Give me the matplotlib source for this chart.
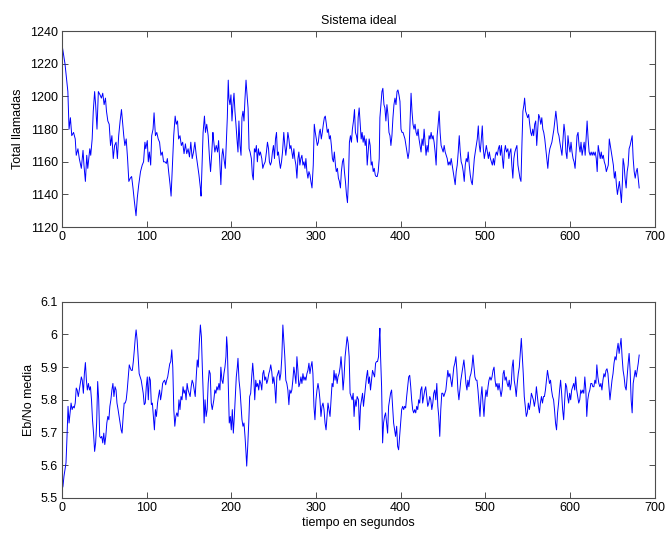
import numpy as np
import matplotlib
matplotlib.use('Agg')
import matplotlib.pyplot as plt
from matplotlib.ticker import FormatStrFormatter

plt.rcParams['font.family'] = ['Liberation Sans', 'DejaVu Sans']
plt.rcParams['font.size'] = 9

# (tiempo, total llamadas)
calls_pts = [
    (0, 1232), (3.6, 1220), (7, 1203), (8.4, 1180), (10, 1187), (11.6, 1176), (13.7, 1178), (15.7, 1174),
    (16.9, 1164), (18.9, 1168), (20.5, 1162), (22.9, 1156), (24.9, 1167), (26, 1158), (27.7, 1148),
    (29.3, 1164), (30.5, 1156), (32.9, 1168), (34, 1164), (35.7, 1174), (37, 1191), (38.6, 1203),
    (39.8, 1195), (41.4, 1180), (43, 1203), (45, 1201), (46.6, 1199), (48.2, 1202), (49.8, 1195),
    (51.4, 1199), (52.6, 1191), (54.2, 1185), (55.8, 1183), (57.4, 1170), (59, 1176), (60.6, 1162),
    (62.2, 1170), (63.9, 1172), (65.5, 1162), (67, 1176), (68.7, 1185), (70.3, 1192), (71.5, 1185),
    (73, 1176), (74.3, 1170), (75.9, 1174), (77.5, 1162), (79, 1148), (80.7, 1150), (82.3, 1151),
    (83.9, 1144), (85.5, 1136), (87.5, 1127), (89, 1138), (90.7, 1146), (92.8, 1154), (94.8, 1158),
    (96.4, 1160), (98, 1172), (99, 1168), (100.8, 1173), (102, 1160), (103.2, 1166), (104.8, 1158),
    (106, 1176), (107.6, 1180), (108.8, 1190), (110.4, 1176), (112, 1178), (113.7, 1174), (115.3, 1172),
    (116.9, 1164), (118.5, 1166), (120, 1160), (121.7, 1160), (123.3, 1159), (124.5, 1162), (126, 1154),
    (127.7, 1146), (128.9, 1139), (130.5, 1158), (132, 1176), (133.7, 1188), (135, 1183), (136.5, 1185),
    (137.8, 1174), (139.4, 1176), (141, 1170), (142.6, 1172), (144.2, 1165), (145.8, 1171), (147.4, 1165),
    (149, 1168), (150.6, 1163), (152.2, 1172), (153.8, 1162), (155.4, 1166), (157, 1172), (158.6, 1164),
    (160.2, 1158), (161.8, 1152), (163.5, 1144), (164.3, 1139), (165.5, 1158), (166.7, 1178), (168.3, 1188),
    (169.5, 1178), (171, 1183), (172.7, 1176), (174.3, 1162), (175.5, 1154), (177, 1166), (178.3, 1178),
    (179, 1174), (180.6, 1166), (182.2, 1170), (183.8, 1166), (185, 1173), (186.2, 1162), (187.7, 1146),
    (189, 1164), (190, 1168), (191.3, 1162), (192.9, 1156), (194, 1170), (195.3, 1187), (196.4, 1210),
    (197.2, 1199), (198.4, 1195), (199.6, 1201), (200.8, 1185), (202, 1195), (203.2, 1202), (204.3, 1191),
    (205.5, 1183), (206.7, 1174), (207.9, 1166), (209, 1185), (210.3, 1170), (211.5, 1164), (212.6, 1187),
    (213.8, 1191), (215, 1185), (216.2, 1199), (217.4, 1210), (218.6, 1201), (219.8, 1193), (221, 1168),
    (222.2, 1166), (223.7, 1162), (224.9, 1152), (226, 1149), (227.3, 1168), (228.5, 1166), (229.6, 1170),
    (230.8, 1160), (232, 1168), (233.2, 1164), (234.4, 1166), (236, 1162), (237.2, 1156), (238.3, 1158),
    (240, 1160), (241.5, 1166), (242.7, 1172), (244, 1168), (245, 1160), (246.2, 1158), (247.4, 1160),
    (248.6, 1166), (249.8, 1170), (251, 1162), (252.2, 1174), (253.4, 1178), (254.5, 1164), (255.7, 1166),
    (256.9, 1160), (258, 1156), (259.3, 1160), (260.5, 1166), (262, 1178), (263.2, 1170), (264.4, 1164),
    (265.6, 1170), (266.8, 1178), (268, 1174), (269.2, 1168), (270.4, 1170), (271.5, 1166), (272.7, 1162),
    (273.9, 1168), (275, 1162), (276.3, 1158), (277.5, 1150), (278.7, 1162), (279.8, 1166), (281, 1158),
    (282.2, 1162), (283.4, 1164), (284.6, 1158), (285.8, 1160), (287, 1156), (288.1, 1162), (289.3, 1154),
    (290.5, 1150), (291.7, 1154), (292.9, 1152), (294, 1148), (295.3, 1144), (296.8, 1158), (298, 1183),
    (299.2, 1178), (300.4, 1174), (301.6, 1170), (302.8, 1172), (304, 1178), (305, 1180), (306.3, 1174),
    (307.5, 1178), (308.7, 1183), (309.9, 1187), (311, 1188), (312.3, 1183), (313.4, 1178), (314.6, 1180),
    (315.8, 1174), (317, 1176), (318.2, 1170), (319.4, 1162), (320.6, 1160), (321.7, 1166), (323, 1158),
    (324, 1154), (325.3, 1156), (326.5, 1150), (327.7, 1148), (328.9, 1144), (330, 1154), (331.3, 1160),
    (332.5, 1162), (333.6, 1154), (334.8, 1148), (336, 1140), (337.2, 1135), (338.3, 1148), (339.5, 1172),
    (340.7, 1176), (341.9, 1172), (343, 1180), (344.3, 1185), (345.5, 1192), (346.6, 1178), (347.8, 1176),
    (349, 1172), (349.8, 1187), (351, 1193), (352.2, 1183), (353.4, 1174), (354.5, 1178), (355.7, 1172),
    (356.9, 1176), (358.1, 1170), (359.3, 1174), (360.5, 1158), (361.7, 1166), (362.8, 1174), (364, 1170),
    (365.2, 1158), (366.4, 1160), (367.6, 1154), (368.8, 1156), (370, 1152), (371.1, 1151), (372.3, 1151),
    (373.5, 1154), (374.7, 1162), (375.5, 1187), (376.7, 1195), (377.9, 1203), (379, 1205), (380.3, 1195),
    (381.4, 1193), (382.6, 1185), (383.8, 1195), (385, 1189), (386.2, 1178), (387.4, 1176), (388.5, 1170),
    (389.7, 1176), (390.9, 1187), (392.1, 1195), (393.3, 1199), (394.5, 1195), (395.7, 1203), (396.8, 1204),
    (398, 1201), (399.2, 1197), (400.4, 1180), (401.6, 1178), (402.8, 1178), (404, 1176), (405.1, 1174),
    (406.3, 1170), (407.5, 1166), (408.7, 1162), (409.9, 1166), (411, 1183), (412.3, 1202), (413.4, 1191),
    (414.6, 1183), (415.8, 1180), (417, 1183), (418.2, 1178), (419.4, 1176), (420.6, 1180), (421.7, 1174),
    (422.9, 1170), (424.1, 1166), (425.3, 1174), (426.5, 1170), (427.7, 1180), (428.9, 1172), (430, 1164),
    (431.2, 1170), (432.4, 1166), (433.6, 1176), (434.8, 1174), (436, 1178), (437.2, 1174), (438.3, 1176),
    (439.5, 1172), (440.7, 1166), (441.9, 1158), (443.1, 1176), (444.3, 1183), (445.5, 1191), (446.6, 1178),
    (447.8, 1170), (449, 1168), (450.2, 1166), (451.4, 1170), (452.6, 1166), (453.8, 1164), (455, 1162),
    (456.1, 1158), (457.3, 1160), (458.5, 1158), (459.7, 1162), (460.9, 1158), (462, 1154), (463.2, 1150),
    (464.4, 1146), (465.6, 1154), (466.8, 1158), (468, 1166), (469.2, 1176), (470.4, 1166), (471.5, 1160),
    (472.7, 1158), (473.9, 1154), (475.1, 1148), (476.3, 1158), (477.5, 1162), (478.7, 1160), (479.8, 1166),
    (481, 1158), (482.2, 1152), (483.4, 1148), (484.6, 1146), (485.8, 1154), (487, 1162), (488.1, 1166),
    (489.3, 1170), (490.5, 1174), (491.7, 1182), (492.9, 1170), (494, 1166), (495.3, 1174), (496.4, 1182),
    (497.6, 1168), (498.8, 1162), (500, 1166), (501.2, 1170), (502.4, 1166), (503.6, 1162), (504.7, 1166),
    (506, 1162), (507.1, 1160), (508.3, 1158), (509.5, 1162), (510.7, 1158), (511.9, 1164), (513, 1166),
    (514.2, 1164), (515.4, 1168), (516.6, 1170), (517.8, 1164), (519, 1170), (520.2, 1162), (521.3, 1156),
    (522.5, 1166), (523.7, 1170), (525, 1166), (526.6, 1168), (527.8, 1162), (529, 1166), (530.2, 1168),
    (531.3, 1158), (532.5, 1150), (533.7, 1162), (534.9, 1166), (536, 1168), (537.3, 1170), (538.5, 1158),
    (539.7, 1154), (540.9, 1150), (542.1, 1148), (543.3, 1172), (544.4, 1191), (545.6, 1195), (546.4, 1199),
    (547.6, 1191), (548.8, 1189), (550, 1187), (551.2, 1189), (552.4, 1183), (553.6, 1178), (554.8, 1176),
    (556, 1180), (557.1, 1176), (558.3, 1183), (559.5, 1185), (560.7, 1170), (561.9, 1180), (563, 1189),
    (564.3, 1187), (565.5, 1183), (566.7, 1187), (567.9, 1180), (569, 1178), (570.2, 1174), (571.4, 1168),
    (572.6, 1162), (573.8, 1156), (575, 1164), (576.2, 1168), (577.4, 1170), (578.6, 1172), (579.8, 1176),
    (581, 1180), (582.1, 1185), (583.3, 1191), (584.5, 1185), (585.7, 1178), (586.9, 1176), (588, 1172),
    (589.3, 1168), (590.5, 1164), (591.7, 1174), (592.9, 1183), (594, 1178), (595.2, 1166), (596.4, 1162),
    (597.6, 1176), (598.8, 1170), (600, 1166), (601.2, 1172), (602.4, 1166), (603.6, 1162), (604.8, 1160),
    (606, 1156), (607.1, 1166), (608.3, 1176), (609.5, 1178), (610.7, 1170), (611.9, 1166), (613, 1172),
    (614.3, 1164), (615.5, 1168), (616.7, 1172), (617.9, 1164), (619, 1174), (620.2, 1185), (621.4, 1174),
    (622.6, 1166), (623.8, 1164), (625, 1166), (626.2, 1164), (627.4, 1166), (628.6, 1164), (629.8, 1166),
    (631, 1162), (632.1, 1154), (633.3, 1170), (634.5, 1166), (635.7, 1162), (636.9, 1166), (638, 1162),
    (639.3, 1164), (640.5, 1160), (641.7, 1158), (642.9, 1154), (644, 1156), (645.2, 1158), (646.4, 1174),
    (647.6, 1170), (648.8, 1166), (650, 1162), (651.2, 1158), (652.4, 1150), (653.6, 1154), (654.8, 1146),
    (656, 1140), (657.1, 1144), (658.3, 1148), (659.5, 1142), (660.7, 1135), (661.9, 1148), (662.7, 1162),
    (663.9, 1158), (665, 1150), (666.3, 1144), (667.5, 1154), (668.7, 1158), (669.8, 1168), (671, 1170),
    (672.2, 1173), (673.4, 1176), (674.6, 1162), (675.8, 1154), (677, 1150), (678.2, 1154), (679.4, 1156),
    (680.6, 1150), (681.7, 1144),
]

# (tiempo, Eb/No media)
ebno_pts = [
    (0, 5.525), (1.2, 5.535), (2.4, 5.566), (3.6, 5.586), (4.8, 5.607), (6, 5.688), (7.2, 5.78), (8.4, 5.729),
    (9.6, 5.76), (10.8, 5.79), (12, 5.77), (13.3, 5.78), (14.5, 5.775), (15.7, 5.79), (16.9, 5.836), (18, 5.83),
    (19.3, 5.81), (20.5, 5.83), (21.7, 5.85), (22.9, 5.87), (24, 5.86), (25.3, 5.82), (26.5, 5.88), (27.7, 5.914),
    (28.9, 5.86), (30, 5.83), (31.3, 5.85), (32.5, 5.83), (33.7, 5.84), (34.9, 5.8), (36.1, 5.739), (37.3, 5.698),
    (38.6, 5.642), (39.8, 5.668), (41, 5.729), (42.2, 5.856), (43.4, 5.8), (44.6, 5.688), (45.8, 5.683),
    (47, 5.688), (48.2, 5.668), (49.4, 5.698), (50.6, 5.663), (51.8, 5.688), (53, 5.729), (54.2, 5.749),
    (55.4, 5.739), (56.6, 5.78), (57.8, 5.8), (59, 5.83), (60.2, 5.85), (61.4, 5.81), (62.7, 5.84), (63.9, 5.83),
    (65, 5.79), (66.3, 5.77), (67.5, 5.749), (68.7, 5.729), (69.9, 5.708), (71, 5.698), (72.3, 5.749),
    (73.5, 5.79), (74.7, 5.79), (75.9, 5.8), (77.1, 5.83), (78.3, 5.87), (79.5, 5.907), (80.7, 5.897),
    (81.9, 5.89), (83.1, 5.89), (84.3, 5.917), (85.5, 5.953), (86.7, 5.993), (87.6, 6.014), (88.8, 5.983),
    (90, 5.932), (91.2, 5.88), (92.4, 5.87), (93.6, 5.86), (94.8, 5.84), (96, 5.82), (97.2, 5.785), (98.4, 5.79),
    (99.6, 5.84), (100.8, 5.87), (102, 5.8), (103.2, 5.87), (104.4, 5.86), (105.6, 5.785), (106.8, 5.79),
    (108, 5.749), (109.2, 5.708), (110.4, 5.77), (111.6, 5.749), (112.9, 5.79), (114, 5.81), (115.3, 5.83),
    (116.5, 5.8), (117.7, 5.82), (118.9, 5.85), (120, 5.856), (121.3, 5.86), (122.5, 5.846), (123.7, 5.86),
    (124.9, 5.87), (126.1, 5.89), (127.3, 5.91), (128.5, 5.917), (129.7, 5.953), (130.9, 5.9), (132.1, 5.77),
    (133.3, 5.719), (134.5, 5.749), (135.7, 5.76), (137, 5.749), (138.2, 5.8), (139.4, 5.77), (140.6, 5.81),
    (141.8, 5.8), (143, 5.84), (144.2, 5.82), (145.4, 5.83), (146.6, 5.8), (147.8, 5.85), (149, 5.83),
    (150.2, 5.82), (151.4, 5.81), (152.6, 5.84), (153.8, 5.86), (155, 5.85), (156.2, 5.83), (157.4, 5.81),
    (158.6, 5.87), (159.8, 5.922), (161, 5.9), (162.2, 5.973), (163.5, 6.029), (164.7, 5.993), (165.9, 5.89),
    (167.1, 5.8), (167.9, 5.729), (169, 5.8), (170.3, 5.749), (171.5, 5.77), (172.7, 5.85), (173.9, 5.89),
    (175.1, 5.88), (176.3, 5.79), (177.5, 5.77), (179.4, 5.8), (180.6, 5.83), (181.8, 5.82), (183, 5.84),
    (184.2, 5.83), (185.4, 5.85), (186.6, 5.83), (187.7, 5.9), (188.9, 5.86), (190.1, 5.85), (191.3, 5.88),
    (192.5, 5.9), (193.7, 5.932), (194.5, 5.993), (195.3, 5.963), (196.4, 5.85), (197.6, 5.729), (198.8, 5.749),
    (200, 5.708), (201.2, 5.77), (202.4, 5.698), (203.6, 5.749), (204.7, 5.81), (205.9, 5.87), (207.1, 5.9),
    (207.9, 5.927), (209.1, 5.86), (210.3, 5.83), (211.5, 5.78), (212.6, 5.739), (213.8, 5.719), (215, 5.729),
    (216.2, 5.688), (217.4, 5.637), (218.2, 5.597), (219.4, 5.658), (220.6, 5.729), (221.7, 5.81), (222.9, 5.82),
    (224.1, 5.87), (225.3, 5.912), (226.5, 5.87), (227.7, 5.8), (228.9, 5.86), (230, 5.84), (231.2, 5.85),
    (232.4, 5.83), (233.6, 5.86), (234.8, 5.85), (236, 5.83), (237.2, 5.88), (238.3, 5.89), (239.5, 5.86),
    (240.7, 5.87), (241.9, 5.85), (243, 5.86), (244.3, 5.88), (245.4, 5.89), (246.6, 5.907), (247.8, 5.886),
    (249, 5.85), (250.2, 5.87), (251.4, 5.84), (252.6, 5.79), (253.8, 5.87), (255, 5.88), (256.1, 5.89),
    (257.3, 5.86), (258.5, 5.88), (259.7, 5.932), (260.9, 6.029), (262, 5.983), (263.2, 5.932), (264.4, 5.86),
    (265.6, 5.85), (266.8, 5.83), (268, 5.785), (269.2, 5.83), (270.4, 5.82), (271.5, 5.83), (272.7, 5.86),
    (273.9, 5.9), (275, 5.88), (276.3, 5.85), (277.5, 5.932), (278.7, 5.89), (279.8, 5.84), (281, 5.85),
    (282.2, 5.87), (283.4, 5.85), (284.6, 5.88), (285.8, 5.86), (287, 5.87), (288.1, 5.86), (289.3, 5.88),
    (290.5, 5.89), (291.7, 5.912), (292.9, 5.88), (294, 5.9), (295.3, 5.917), (296.4, 5.88), (297.6, 5.78),
    (298.8, 5.739), (300, 5.8), (301.2, 5.83), (302.4, 5.85), (303.6, 5.83), (304.7, 5.8), (305.9, 5.749),
    (307.1, 5.78), (308.3, 5.79), (309.5, 5.77), (310.7, 5.729), (311.9, 5.708), (313, 5.749), (314.2, 5.79),
    (315.4, 5.77), (316.6, 5.749), (317.8, 5.8), (319, 5.85), (320.2, 5.84), (321.3, 5.89), (322.5, 5.86),
    (323.7, 5.88), (325, 5.85), (326, 5.87), (327.3, 5.88), (328.5, 5.9), (329.6, 5.932), (330.8, 5.89),
    (332, 5.83), (333.2, 5.87), (334.4, 5.932), (335.6, 5.963), (336.8, 5.993), (338, 5.973), (339.2, 5.932),
    (340.3, 5.82), (341.5, 5.81), (342.7, 5.8), (343.9, 5.82), (345, 5.749), (346.2, 5.8), (347.4, 5.78),
    (348.6, 5.81), (350.2, 5.8), (351.4, 5.708), (352.6, 5.78), (353.8, 5.8), (355, 5.82), (356.1, 5.78),
    (357.3, 5.81), (358.5, 5.84), (359.7, 5.87), (360.9, 5.89), (362.1, 5.85), (363.2, 5.87), (364.4, 5.83),
    (365.6, 5.86), (366.8, 5.89), (368, 5.88), (369.2, 5.87), (370.4, 5.912), (371.5, 5.917), (372.7, 5.917),
    (373.9, 5.932), (374.7, 5.983), (375.5, 6.019), (376.3, 5.932), (377.5, 5.84), (378.7, 5.668), (379.8, 5.729),
    (381, 5.749), (382.2, 5.76), (383.4, 5.729), (384.6, 5.698), (385.8, 5.78), (387, 5.8), (388.1, 5.82),
    (389.3, 5.83), (390.5, 5.78), (391.7, 5.729), (392.9, 5.708), (394, 5.688), (395.3, 5.719), (396.4, 5.658),
    (397.6, 5.647), (398.8, 5.688), (400, 5.729), (401.2, 5.77), (402.4, 5.78), (403.6, 5.77), (404.7, 5.78),
    (405.9, 5.775), (407.1, 5.81), (408.3, 5.84), (409.5, 5.87), (410.7, 5.875), (411.9, 5.84), (413, 5.8),
    (414.2, 5.77), (415.4, 5.76), (416.6, 5.77), (417.8, 5.76), (419, 5.78), (420.2, 5.77), (421.3, 5.8),
    (422.5, 5.79), (423.7, 5.83), (425, 5.84), (426, 5.79), (427.3, 5.81), (428.5, 5.83), (429.6, 5.84),
    (430.8, 5.81), (432, 5.78), (433.2, 5.79), (434.4, 5.81), (435.6, 5.8), (436.8, 5.77), (438, 5.79),
    (439.1, 5.82), (440.3, 5.83), (441.5, 5.8), (442.7, 5.85), (443.9, 5.78), (445, 5.749), (446.2, 5.688),
    (447.4, 5.77), (448.6, 5.82), (449.8, 5.82), (451, 5.81), (452.2, 5.82), (453.4, 5.83), (454.5, 5.86),
    (455.7, 5.89), (456.9, 5.87), (458.1, 5.88), (459.3, 5.86), (460.5, 5.84), (461.7, 5.87), (462.8, 5.9),
    (464, 5.912), (465.2, 5.932), (466.4, 5.89), (467.6, 5.83), (468.8, 5.8), (470, 5.83), (471.1, 5.86),
    (472.3, 5.88), (473.5, 5.9), (474.7, 5.922), (475.9, 5.89), (477.1, 5.85), (478.3, 5.83), (479.4, 5.86),
    (480.6, 5.84), (481.8, 5.87), (483, 5.88), (484.2, 5.9), (485.4, 5.937), (486.6, 5.9), (487.7, 5.87),
    (489, 5.86), (490.1, 5.86), (491.3, 5.83), (492.5, 5.79), (493.7, 5.749), (494.9, 5.81), (496, 5.84),
    (497.2, 5.79), (498.4, 5.749), (499.6, 5.8), (500.8, 5.83), (502, 5.81), (503.2, 5.84), (504.3, 5.86),
    (505.5, 5.87), (506.7, 5.86), (507.9, 5.87), (509.1, 5.89), (510.3, 5.9), (511.5, 5.86), (512.6, 5.84),
    (513.8, 5.85), (515, 5.83), (516.2, 5.85), (517.4, 5.83), (518.6, 5.81), (519.8, 5.83), (521, 5.88),
    (522.1, 5.89), (523.3, 5.86), (524.6, 5.87), (525.8, 5.85), (527, 5.84), (528.2, 5.86), (529.4, 5.83),
    (530.6, 5.85), (531.7, 5.9), (532.9, 5.922), (534.1, 5.86), (535.3, 5.84), (536.5, 5.81), (537.7, 5.85),
    (538.9, 5.88), (540.1, 5.9), (541.3, 5.942), (542.5, 5.988), (543.7, 5.932), (544.8, 5.88), (546, 5.81),
    (547.2, 5.78), (548.4, 5.749), (549.6, 5.76), (550.8, 5.79), (552, 5.77), (553.2, 5.79), (554.4, 5.82),
    (555.6, 5.81), (556.7, 5.8), (557.9, 5.78), (559.1, 5.8), (560.3, 5.84), (561.5, 5.81), (562.7, 5.78),
    (563.9, 5.76), (565, 5.79), (566.3, 5.81), (567.5, 5.79), (568.7, 5.81), (569.8, 5.81), (571, 5.83),
    (572.2, 5.86), (573.4, 5.89), (574.6, 5.87), (575.8, 5.85), (577, 5.86), (578.2, 5.83), (579.4, 5.81),
    (580.6, 5.8), (581.7, 5.77), (582.9, 5.729), (584.1, 5.708), (585.3, 5.76), (586.5, 5.79), (587.7, 5.83),
    (588.9, 5.86), (590.1, 5.82), (591.3, 5.77), (592.5, 5.739), (593.7, 5.8), (594.8, 5.85), (596, 5.84),
    (597.2, 5.81), (598.4, 5.79), (599.6, 5.82), (600.8, 5.8), (602, 5.83), (603.2, 5.84), (604.4, 5.85),
    (605.6, 5.83), (606.7, 5.87), (607.9, 5.83), (609.1, 5.81), (610.3, 5.79), (611.5, 5.8), (612.7, 5.83),
    (613.9, 5.82), (615.1, 5.83), (616.3, 5.82), (617.5, 5.87), (618.7, 5.83), (619.8, 5.749), (621, 5.8),
    (622.2, 5.82), (623.4, 5.83), (624.6, 5.85), (625.8, 5.85), (627, 5.84), (628.2, 5.84), (629.4, 5.86),
    (630.6, 5.85), (631.7, 5.907), (632.9, 5.87), (634.1, 5.85), (635.3, 5.84), (636.5, 5.85), (637.7, 5.83),
    (638.9, 5.86), (640.1, 5.88), (641.3, 5.87), (642.5, 5.89), (643.7, 5.895), (644.8, 5.88), (646, 5.84),
    (647.2, 5.8), (648.4, 5.83), (649.6, 5.86), (650.8, 5.88), (652, 5.912), (653.2, 5.932), (654.4, 5.922),
    (655.6, 5.953), (656.8, 5.973), (658, 5.942), (659.1, 5.963), (660.3, 5.988), (661.5, 5.932), (662.7, 5.89),
    (663.9, 5.87), (665.1, 5.84), (666.3, 5.83), (667.5, 5.87), (668.7, 5.912), (669.8, 5.942), (671, 5.89),
    (672.2, 5.8), (673.4, 5.76), (674.6, 5.85), (675.8, 5.87), (677, 5.89), (678.2, 5.87), (679.4, 5.89),
    (680.6, 5.912), (681.7, 5.937),
]

calls_yticks = [1120, 1140, 1160, 1180, 1200, 1220, 1240]
ebno_yticks = [5.5, 5.6, 5.7, 5.8, 5.9, 6.0, 6.1]
xticks = [0, 100, 200, 300, 400, 500, 600, 700]

t_calls, calls = np.array(calls_pts).T
t_ebno, ebno = np.array(ebno_pts).T

fig = plt.figure(figsize=(6.66, 5.37), dpi=100)
ax1 = fig.add_axes([0.093, 0.577, 0.890, 0.365])
ax2 = fig.add_axes([0.093, 0.073, 0.890, 0.365])


def matlab_style(ax):
    for s in ax.spines.values():
        s.set_color('0.3')
        s.set_linewidth(0.8)
    ax.tick_params(direction='in', top=True, right=True, length=4,
                   width=0.7, color='0.3', labelsize=9, pad=3)
    ax.set_xlim(0, 700)
    ax.set_xticks(xticks)


ax1.plot(t_calls, calls, color='#0000ff', lw=0.7)
matlab_style(ax1)
ax1.set_ylim(1120, 1240)
ax1.set_yticks(calls_yticks)
ax1.set_ylabel('Total llamadas', fontsize=9, labelpad=4)
ax1.set_title('Sistema ideal', fontsize=9, pad=5)

ax2.plot(t_ebno, ebno, color='#0000ff', lw=0.7)
matlab_style(ax2)
ax2.set_ylim(5.5, 6.1)
ax2.set_yticks(ebno_yticks)
ax2.yaxis.set_major_formatter(FormatStrFormatter('%g'))
ax2.set_ylabel('Eb/No media', fontsize=9, labelpad=4)
ax2.set_xlabel('tiempo en segundos', fontsize=9, labelpad=2)

fig.savefig('out.png', dpi=100)
